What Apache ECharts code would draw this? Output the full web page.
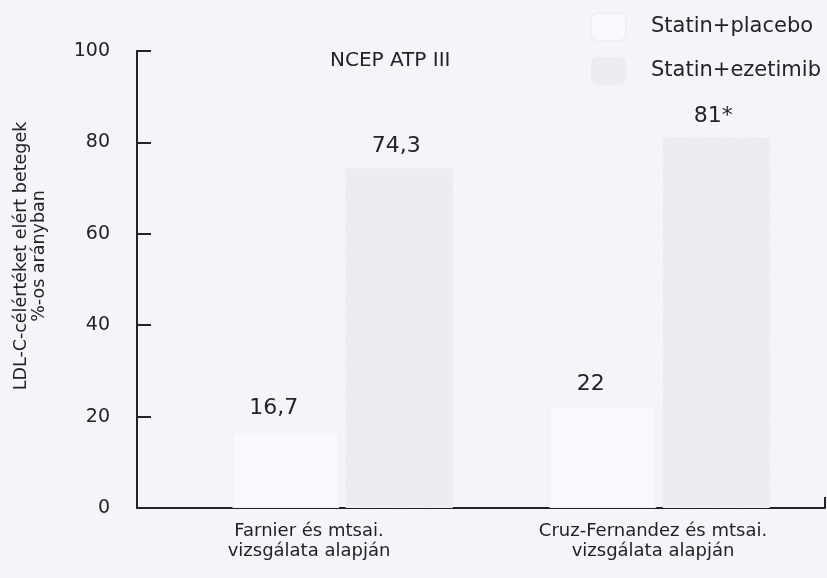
<!DOCTYPE html>
<html>
<head>
<meta charset="utf-8">
<script src="https://cdn.jsdelivr.net/npm/echarts@6/dist/echarts.min.js"></script>
<style>
  * { margin: 0; padding: 0; }
  body { background: #f4f5fa; }
  #main { width: 827px; height: 578px; }
</style>
</head>
<body>
<div id="main"></div>
<script>
// adatok
var categories = ['Farnier és mtsai.\nvizsgálata alapján', 'Cruz-Fernandez és mtsai.\nvizsgálata alapján'];
var placeboValues = [16.7, 22];
var ezetimibValues = [74.3, 81];
var placeboLabels = ['16,7', '22'];
var ezetimibLabels = ['74,3', '81*'];
var yTicks = [0, 20, 40, 60, 80, 100];

var font = 'DejaVu Sans';
var ink = '#222228';

var chart = echarts.init(document.getElementById('main'));
chart.setOption({
  backgroundColor: '#f4f5fa',
  textStyle: { fontFamily: font },
  legend: {
    orient: 'vertical',
    left: 585,
    top: 7,
    itemWidth: 35,
    itemHeight: 28,
    itemGap: 15,
    textStyle: { fontSize: 21, color: ink, padding: [0, 0, 0, 20] },
    data: ['Statin+placebo', 'Statin+ezetimib']
  },
  graphic: [
    { type: 'text', left: 330, top: 51,
      style: { text: 'NCEP ATP III', font: '20px ' + font, fill: ink } },
    { type: 'text', x: 30, y: 256, rotation: Math.PI / 2,
      style: { text: 'LDL-C-célértéket elért betegek\n%-os arányban', font: '17.5px ' + font,
        fill: ink, align: 'center', verticalAlign: 'middle', lineHeight: 18 } },
    // kis zárójel a vízszintes tengely végén
    { type: 'line', shape: { x1: 825, y1: 497, x2: 825, y2: 508 },
      style: { stroke: ink, lineWidth: 2 } }
  ],
  grid: [
    { left: 137, right: 2, top: 51, bottom: 70 },   // keret
    { left: 184, right: 9, top: 51, bottom: 70 }    // oszlopok
  ],
  xAxis: [
    { type: 'category', gridIndex: 0, data: categories,
      axisLine: { lineStyle: { color: ink, width: 2 } },
      axisTick: { show: false },
      axisLabel: { color: ink, fontSize: 18, margin: 13, lineHeight: 20 } },
    { type: 'category', gridIndex: 1, data: categories, show: false }
  ],
  yAxis: [
    { type: 'value', gridIndex: 0, min: 0, max: 100, interval: 20,
      axisLine: { show: true, lineStyle: { color: ink, width: 2 } },
      axisTick: { show: true, inside: true, length: 14, lineStyle: { color: ink, width: 2 } },
      axisLabel: { color: ink, fontSize: 19, margin: 27,
        formatter: function (v) { return yTicks.indexOf(v) >= 0 ? v : ''; } },
      splitLine: { show: false } },
    { type: 'value', gridIndex: 1, min: 0, max: 100, interval: 20, show: false }
  ],
  series: [
    {
      name: 'Statin+placebo', type: 'bar', xAxisIndex: 1, yAxisIndex: 1,
      barWidth: 107, barGap: '6%',
      itemStyle: { color: '#f8f9fc', borderColor: '#eef0f6', borderWidth: 1 },
      label: { show: true, position: 'top', distance: 12, offset: [-12, 0],
        fontSize: 22, color: ink,
        formatter: function (p) { return placeboLabels[p.dataIndex]; } },
      data: placeboValues
    },
    {
      name: 'Statin+ezetimib', type: 'bar', xAxisIndex: 1, yAxisIndex: 1,
      barWidth: 107,
      itemStyle: {
        color: '#eceef3',
        decal: { symbol: 'rect', symbolSize: 0.6, dashArrayX: [1, 2], dashArrayY: [1, 2],
          rotation: 0.5, color: 'rgba(150,152,160,0.45)' }
      },
      label: { show: true, position: 'top', distance: 11, offset: [-3, 0],
        fontSize: 22, color: ink,
        formatter: function (p) { return ezetimibLabels[p.dataIndex]; } },
      data: ezetimibValues
    }
  ]
});
</script>
</body>
</html>
